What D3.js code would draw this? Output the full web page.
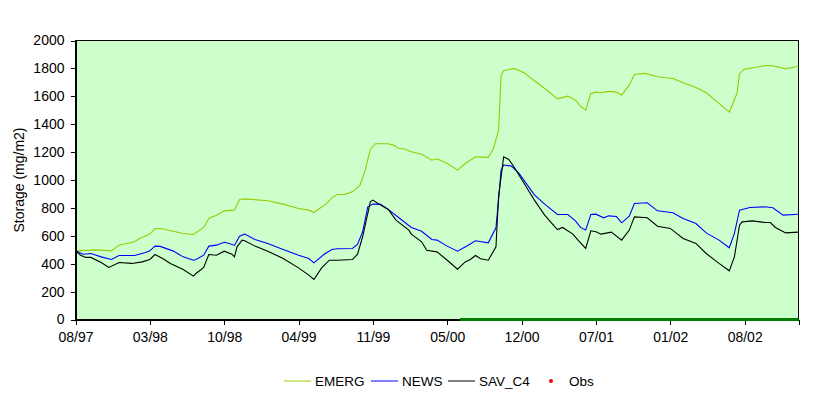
<!DOCTYPE html>
<html lang="en">
<head>
<meta charset="UTF-8">
<title>Storage</title>
<script src="https://d3js.org/d3.v7.min.js"></script>
<style>
  body { margin: 0; background: #fff; }
  svg text { font-family: "Liberation Sans", Arial, sans-serif; fill: #000; }
  .axis path, .axis line { stroke: #000; shape-rendering: crispEdges; }
</style>
</head>
<body>
<div id="chart"></div>
<script>
// weekly categories, a label every 29 weeks
const tickLabels = ["08/97", "03/98", "10/98", "04/99", "11/99", "05/00", "12/00", "07/01", "01/02", "08/02"];
const nWeeks = 283;
const yTicks = [0, 200, 400, 600, 800, 1000, 1200, 1400, 1600, 1800, 2000];

const emergWeek = [0, 6, 8, 14, 17, 23, 25, 29, 31, 34, 38, 42, 46, 50, 52, 55, 58, 62, 64, 66, 75, 81, 87, 91, 93, 98, 100, 102, 105, 108, 111, 113, 115, 117, 122, 124, 126, 128, 131, 135, 139, 141, 145, 149, 152, 156, 161, 163, 165, 166, 167, 171, 175, 179, 183, 188, 192, 195, 197, 199, 201, 203, 205, 208, 211, 213, 216, 218, 222, 227, 233, 237, 242, 246, 251, 255, 258, 259, 261, 265, 269, 272, 277, 282];
const emergVal = [492, 497, 499, 492, 533, 557, 581, 612, 652, 650, 633, 617, 609, 660, 724, 748, 779, 784, 860, 865, 851, 827, 796, 784, 767, 832, 872, 896, 897, 915, 963, 1071, 1221, 1260, 1260, 1250, 1228, 1224, 1202, 1185, 1142, 1152, 1118, 1071, 1118, 1166, 1162, 1226, 1357, 1752, 1783, 1800, 1769, 1711, 1656, 1582, 1601, 1573, 1530, 1501, 1620, 1630, 1625, 1635, 1630, 1608, 1680, 1757, 1764, 1740, 1728, 1697, 1663, 1625, 1549, 1487, 1620, 1764, 1795, 1807, 1821, 1819, 1797, 1816];

const newsWeek = [0, 3, 6, 10, 14, 17, 23, 27, 29, 31, 33, 38, 42, 46, 47, 50, 52, 55, 58, 60, 62, 64, 66, 70, 75, 81, 87, 91, 93, 97, 100, 102, 108, 110, 112, 114, 116, 119, 122, 126, 131, 135, 139, 141, 145, 149, 153, 156, 161, 164, 165, 166, 167, 170, 173, 176, 179, 183, 188, 192, 195, 197, 199, 201, 203, 206, 208, 211, 213, 216, 218, 223, 227, 233, 237, 242, 246, 251, 255, 257, 259, 263, 269, 272, 276, 282];
const newsVal = [492, 468, 473, 449, 430, 459, 459, 478, 492, 526, 524, 492, 449, 425, 430, 461, 526, 533, 554, 545, 531, 597, 612, 574, 545, 502, 461, 437, 406, 468, 502, 507, 509, 538, 629, 808, 827, 825, 789, 731, 660, 633, 574, 569, 526, 490, 531, 564, 550, 657, 856, 1071, 1107, 1100, 1047, 970, 894, 827, 753, 753, 707, 660, 641, 753, 755, 729, 743, 738, 693, 741, 832, 837, 779, 765, 724, 688, 621, 569, 514, 617, 784, 803, 808, 801, 748, 755];

const savWeek = [0, 2, 4, 6, 10, 13, 17, 22, 26, 29, 31, 34, 37, 42, 46, 47, 50, 52, 55, 58, 61, 62, 63, 65, 66, 70, 75, 81, 87, 91, 93, 96, 99, 102, 108, 110, 112, 115, 116, 118, 122, 125, 130, 131, 135, 137, 141, 145, 149, 152, 154, 156, 158, 161, 164, 165, 167, 169, 171, 175, 179, 183, 187, 188, 190, 194, 196, 199, 201, 203, 205, 209, 213, 216, 218, 223, 227, 232, 237, 242, 246, 251, 255, 257, 259, 260, 264, 269, 271, 273, 277, 282];
const savVal = [492, 461, 445, 445, 409, 373, 409, 402, 413, 430, 466, 437, 402, 358, 311, 330, 373, 466, 461, 490, 468, 449, 521, 569, 564, 526, 490, 437, 370, 318, 287, 370, 425, 425, 430, 468, 593, 844, 856, 832, 789, 712, 641, 612, 557, 497, 485, 425, 361, 413, 430, 459, 435, 425, 521, 880, 1166, 1147, 1095, 975, 856, 748, 664, 645, 660, 612, 569, 509, 636, 629, 612, 626, 569, 641, 736, 729, 669, 653, 581, 545, 473, 402, 349, 449, 676, 700, 707, 695, 695, 660, 621, 626];

const obsWeek = [150, 282];
const obsVal = [0, 0];

const series = [
  {name: "EMERG", week: emergWeek, val: emergVal, color: "#99cc00"},
  {name: "NEWS", week: newsWeek, val: newsVal, color: "#0000ff"},
  {name: "SAV_C4", week: savWeek, val: savVal, color: "#000000"}
];

const width = 832, height = 399;
const plotLeft = 75.5, plotRight = 798.5, plotTop = 40.5, plotBottom = 319.5;

const svg = d3.select("#chart").append("svg")
    .attr("width", width)
    .attr("height", height);

const x = d3.scaleLinear().domain([0, nWeeks - 1]).range([plotLeft, plotRight]);
const y = d3.scaleLinear().domain([0, 2000]).range([plotBottom, plotTop]);

// plot area
svg.append("rect")
    .attr("x", plotLeft).attr("y", plotTop)
    .attr("width", plotRight - plotLeft).attr("height", plotBottom - plotTop)
    .attr("fill", "#ccffcc")
    .attr("stroke", "#000")
    .attr("stroke-width", 1)
    .attr("shape-rendering", "crispEdges");

const line = d3.line()
    .x(d => x(d[0]))
    .y(d => y(d[1]));

series.forEach(s => {
    svg.append("path")
        .datum(d3.zip(s.week, s.val))
        .attr("fill", "none")
        .attr("stroke", s.color)
        .attr("stroke-width", 1.1)
        .attr("d", line);
});

// axes
svg.append("g")
    .attr("class", "axis")
    .attr("transform", `translate(${plotLeft},0)`)
    .call(d3.axisLeft(y).tickValues(yTicks).tickSize(5).tickPadding(6).tickFormat(d3.format("d")))
    .call(g => g.selectAll("text").style("font-size", "14px"));

svg.append("g")
    .attr("class", "axis")
    .attr("transform", `translate(0,${plotBottom})`)
    .call(d3.axisBottom(x).tickValues(tickLabels.map((t, i) => i * 29)).tickSize(5).tickPadding(8)
        .tickFormat((d, i) => tickLabels[i]))
    .call(g => g.selectAll("text").style("font-size", "14px"));

// obs bar along the bottom
svg.append("path")
    .datum(d3.zip(obsWeek, obsVal))
    .attr("fill", "none")
    .attr("stroke", "#008000")
    .attr("stroke-width", 3)
    .attr("d", line);

svg.append("text")
    .attr("transform", `translate(24,${(plotTop + plotBottom) / 2}) rotate(-90)`)
    .attr("text-anchor", "middle")
    .style("font-size", "14px")
    .text("Storage (mg/m2)");

// legend
const legendItems = [
    {name: "EMERG", color: "#99cc00", x: 284},
    {name: "NEWS", color: "#0000ff", x: 371},
    {name: "SAV_C4", color: "#000000", x: 448}
];
const ly = 381;
legendItems.forEach(d => {
    svg.append("line")
        .attr("x1", d.x).attr("x2", d.x + 27)
        .attr("y1", ly).attr("y2", ly)
        .attr("stroke", d.color).attr("stroke-width", 1);
    svg.append("text")
        .attr("x", d.x + 31).attr("y", ly + 5)
        .style("font-size", "13.5px")
        .text(d.name);
});
svg.append("circle")
    .attr("cx", 551).attr("cy", ly).attr("r", 2)
    .attr("fill", "#ff0000");
svg.append("text")
    .attr("x", 569).attr("y", ly + 5)
    .style("font-size", "13.5px")
    .text("Obs");
</script>
</body>
</html>
